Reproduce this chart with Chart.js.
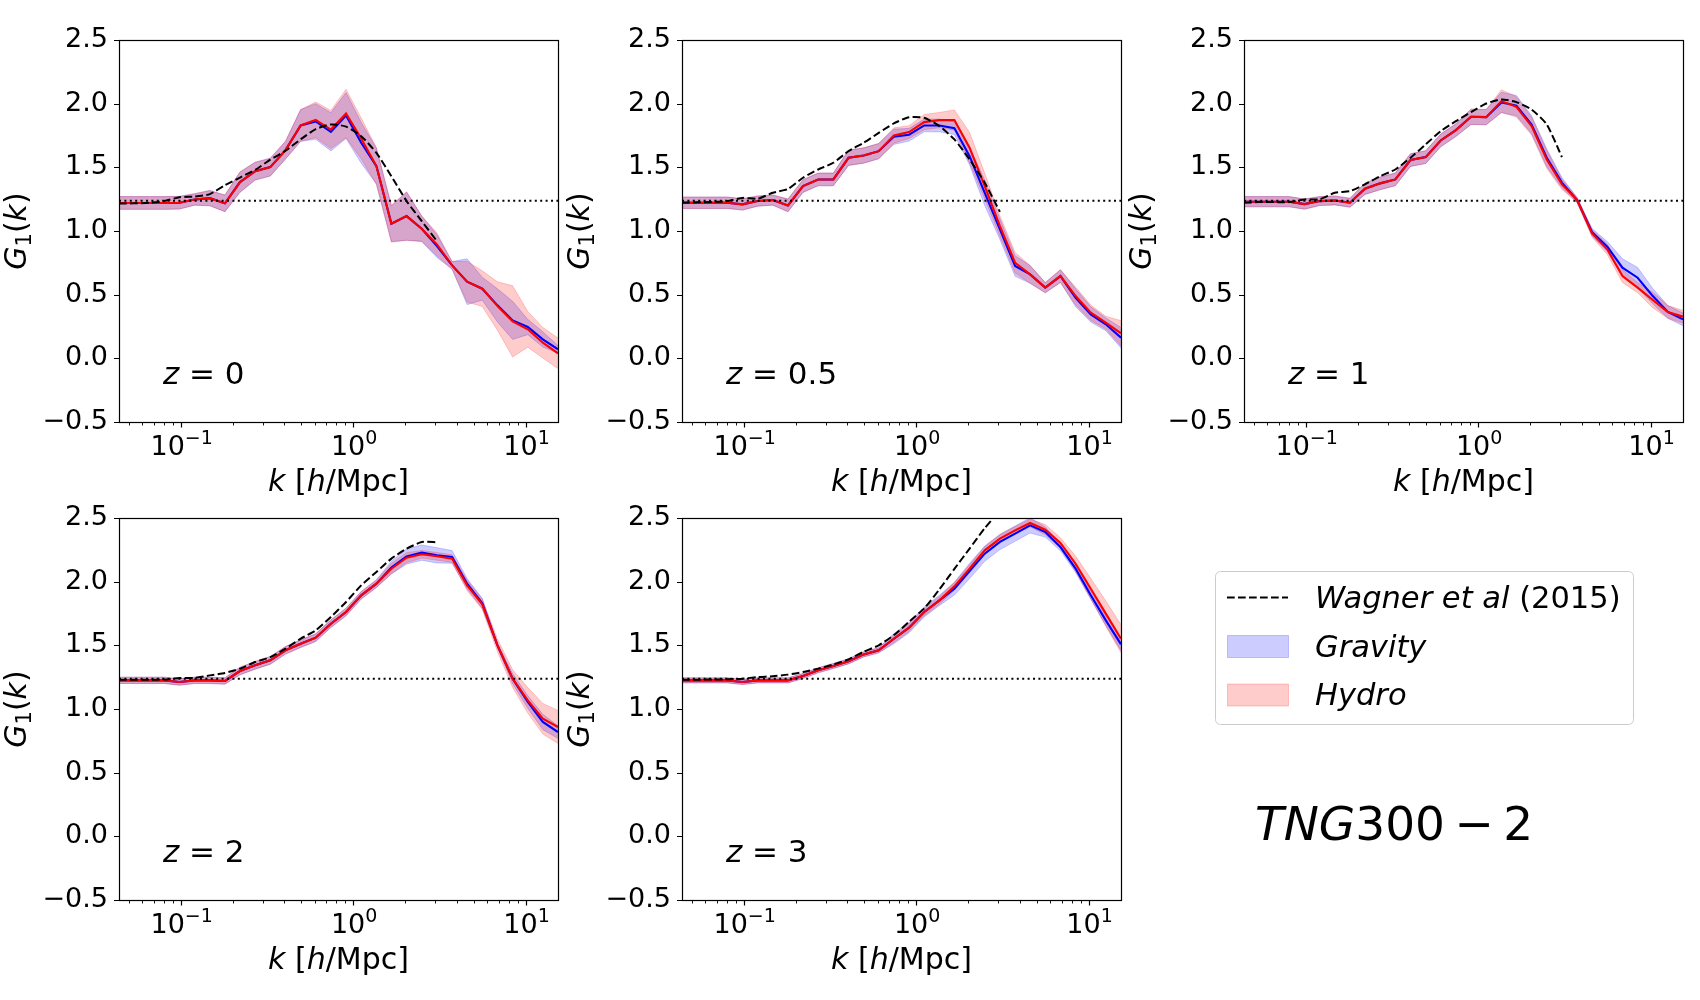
<!DOCTYPE html>
<html>
<head>
<meta charset="utf-8">
<script src="https://cdn.jsdelivr.net/npm/chart.js@4.4.1/dist/chart.umd.min.js"></script>
<style>
  html, body { margin: 0; padding: 0; background: #ffffff; width: 1700px; height: 1000px; overflow: hidden; }
  canvas { position: absolute; }
  #overlay { position: absolute; left: 0; top: 0; }
</style>
</head>
<body>
<canvas id="c0"></canvas>
<canvas id="c1"></canvas>
<canvas id="c2"></canvas>
<canvas id="c3"></canvas>
<canvas id="c4"></canvas>
<svg id="overlay" width="1700" height="1000" xmlns="http://www.w3.org/2000/svg"></svg>
<script>
// ---------------- DATA ----------------
const k = [0.0439, 0.0537, 0.0658, 0.0804, 0.0984, 0.1205, 0.1476, 0.1807, 0.2208, 0.2704,
           0.3311, 0.4055, 0.4966, 0.6067, 0.743, 0.9099, 1.114, 1.365, 1.667, 2.042,
           2.5, 3.062, 3.75, 4.581, 5.61, 6.871, 8.414, 10.30, 12.59, 15.42];
// Wagner et al (2015) curve is sampled at the first 22 k values
const kWagner = [0.0439, 0.0537, 0.0658, 0.0804, 0.0984, 0.1205, 0.1476, 0.1807, 0.2208, 0.2704,
                 0.3311, 0.4055, 0.4966, 0.6067, 0.743, 0.9099, 1.114, 1.365, 1.667, 2.042,
                 2.5, 3.062];

const redshifts = ['0', '0.5', '1', '2', '3'];
const largeScaleG1 = 1.238;   // 26/21 dotted reference line

// z = 0
const grav_z0     = [1.22,1.22,1.22,1.22,1.222,1.248,1.258,1.217,1.384,1.47,1.502,1.635,1.829,1.86,1.779,1.907,1.693,1.51,1.057,1.117,1.018,0.882,0.73,0.602,0.547,0.416,0.298,0.246,0.149,0.071];
const gravErr_z0  = [0.05,0.05,0.05,0.05,0.05,0.045,0.06,0.065,0.08,0.07,0.07,0.07,0.125,0.14,0.15,0.18,0.16,0.14,0.14,0.19,0.1,0.09,0.03,0.18,0.09,0.13,0.15,0.06,0.06,0.03];
const hydro_z0    = [1.22,1.22,1.22,1.22,1.222,1.248,1.258,1.217,1.384,1.47,1.502,1.635,1.829,1.873,1.797,1.923,1.727,1.51,1.057,1.117,1.018,0.895,0.73,0.602,0.547,0.411,0.29,0.228,0.123,0.039];
const hydroErr_z0 = [0.05,0.05,0.05,0.05,0.05,0.045,0.06,0.065,0.08,0.07,0.07,0.07,0.125,0.14,0.15,0.19,0.16,0.145,0.145,0.19,0.1,0.09,0.03,0.16,0.14,0.19,0.28,0.14,0.12,0.12];
const wagner_z0   = [1.215,1.217,1.222,1.235,1.265,1.27,1.29,1.36,1.42,1.48,1.56,1.63,1.72,1.80,1.837,1.82,1.745,1.614,1.43,1.235,1.078,0.92];

// z = 0.5
const grav_z05     = [1.222,1.222,1.222,1.222,1.209,1.235,1.243,1.201,1.353,1.405,1.405,1.575,1.593,1.627,1.74,1.756,1.829,1.829,1.808,1.588,1.30,1.013,0.725,0.659,0.555,0.646,0.476,0.345,0.267,0.162];
const gravErr_z05  = [0.045,0.045,0.045,0.045,0.045,0.04,0.04,0.05,0.05,0.05,0.05,0.06,0.06,0.06,0.06,0.05,0.05,0.05,0.05,0.07,0.1,0.08,0.08,0.07,0.04,0.05,0.07,0.06,0.05,0.08];
const hydro_z05    = [1.222,1.222,1.222,1.222,1.209,1.235,1.243,1.201,1.353,1.405,1.405,1.575,1.593,1.627,1.75,1.777,1.855,1.871,1.871,1.654,1.353,1.039,0.751,0.659,0.555,0.646,0.489,0.358,0.28,0.196];
const hydroErr_z05 = [0.045,0.045,0.045,0.045,0.045,0.04,0.04,0.05,0.05,0.05,0.05,0.06,0.06,0.06,0.06,0.05,0.06,0.06,0.08,0.12,0.1,0.08,0.08,0.07,0.04,0.05,0.07,0.06,0.05,0.1];
const wagner_z05   = [1.222,1.225,1.228,1.235,1.26,1.253,1.30,1.33,1.418,1.483,1.536,1.627,1.693,1.77,1.845,1.894,1.889,1.824,1.719,1.562,1.379,1.15];

// z = 1
const grav_z1     = [1.23,1.23,1.23,1.23,1.211,1.235,1.24,1.222,1.332,1.374,1.405,1.557,1.58,1.711,1.792,1.897,1.894,2.01,1.985,1.835,1.575,1.38,1.243,0.99,0.877,0.712,0.633,0.489,0.364,0.306];
const gravErr_z1  = [0.04,0.04,0.04,0.04,0.04,0.035,0.035,0.035,0.045,0.05,0.05,0.05,0.05,0.05,0.05,0.06,0.06,0.08,0.08,0.07,0.07,0.04,0.02,0.03,0.04,0.07,0.08,0.06,0.05,0.05];
const hydro_z1    = [1.23,1.23,1.23,1.23,1.211,1.235,1.24,1.222,1.332,1.374,1.405,1.557,1.58,1.711,1.792,1.897,1.894,2.02,1.975,1.824,1.562,1.366,1.243,0.981,0.856,0.646,0.555,0.458,0.364,0.327];
const hydroErr_z1 = [0.04,0.04,0.04,0.04,0.04,0.035,0.035,0.035,0.045,0.05,0.05,0.05,0.05,0.05,0.05,0.06,0.06,0.09,0.08,0.07,0.07,0.04,0.02,0.03,0.04,0.05,0.04,0.06,0.05,0.05];
const wagner_z1   = [1.222,1.227,1.227,1.227,1.248,1.25,1.30,1.313,1.366,1.431,1.483,1.575,1.68,1.784,1.863,1.934,2.001,2.033,2.012,1.954,1.837,1.58];

// z = 2
const grav_z2     = [1.225,1.225,1.225,1.225,1.212,1.225,1.225,1.22,1.298,1.343,1.382,1.461,1.513,1.56,1.67,1.762,1.893,1.984,2.11,2.198,2.228,2.207,2.194,1.984,1.83,1.50,1.238,1.055,0.898,0.819];
const gravErr_z2  = [0.025,0.025,0.025,0.025,0.025,0.025,0.025,0.025,0.03,0.03,0.03,0.03,0.03,0.03,0.03,0.03,0.03,0.03,0.05,0.06,0.06,0.06,0.05,0.04,0.04,0.02,0.04,0.05,0.06,0.05];
const hydro_z2    = [1.225,1.225,1.225,1.225,1.212,1.225,1.225,1.22,1.298,1.343,1.382,1.461,1.513,1.56,1.67,1.762,1.893,1.984,2.102,2.188,2.215,2.199,2.181,1.971,1.822,1.50,1.238,1.068,0.924,0.859];
const hydroErr_z2 = [0.025,0.025,0.025,0.025,0.025,0.025,0.025,0.025,0.03,0.03,0.03,0.03,0.03,0.03,0.03,0.03,0.03,0.03,0.04,0.04,0.03,0.03,0.03,0.04,0.04,0.05,0.07,0.1,0.12,0.13];
const wagner_z2   = [1.23,1.23,1.23,1.232,1.243,1.245,1.264,1.283,1.317,1.369,1.408,1.474,1.552,1.618,1.723,1.84,1.971,2.076,2.181,2.259,2.311,2.31];

// z = 3
const grav_z3     = [1.225,1.225,1.225,1.225,1.212,1.225,1.225,1.225,1.259,1.304,1.338,1.374,1.429,1.461,1.552,1.639,1.762,1.853,1.945,2.084,2.22,2.312,2.377,2.442,2.39,2.272,2.102,1.893,1.696,1.508];
const gravErr_z3  = [0.02,0.02,0.02,0.02,0.02,0.02,0.02,0.02,0.02,0.02,0.02,0.02,0.02,0.02,0.04,0.04,0.04,0.04,0.05,0.06,0.06,0.06,0.06,0.06,0.04,0.03,0.03,0.03,0.04,0.05];
const hydro_z3    = [1.225,1.225,1.225,1.225,1.212,1.225,1.225,1.225,1.259,1.304,1.338,1.374,1.429,1.461,1.552,1.639,1.762,1.853,1.963,2.102,2.246,2.338,2.403,2.461,2.408,2.304,2.141,1.945,1.749,1.552];
const hydroErr_z3 = [0.02,0.02,0.02,0.02,0.02,0.02,0.02,0.02,0.02,0.02,0.02,0.02,0.02,0.02,0.03,0.03,0.03,0.03,0.03,0.03,0.03,0.03,0.03,0.03,0.04,0.04,0.06,0.08,0.1,0.11];
const wagner_z3   = [1.23,1.23,1.232,1.233,1.238,1.251,1.257,1.27,1.29,1.317,1.35,1.39,1.45,1.50,1.58,1.685,1.79,1.94,2.10,2.26,2.42,2.56];

// tick labels (base and exponent of the x tick labels)
const xMajorTicks = [0.1, 1, 10];
const xTickBase = ['10', '10', '10'];
const xTickExp = ['\u22121', '0', '1'];
const yTicks = [-0.5, 0, 0.5, 1.0, 1.5, 2.0, 2.5];
const yMin = -0.5, yMax = 2.5;

const seriesLabels = { wagner: 'Wagner et al', wagnerYear: ' (2015)', grav: 'Gravity', hydro: 'Hydro' };
const simName = { italic: 'TNG', rest: '300\u2009\u2212\u20092' };

// ---------------- STYLE / LAYOUT ----------------
const FONT = '"DejaVu Sans", sans-serif';
const W = 439, H = 382;
const padL = 119, padT = 30, padR = 15, padB = 90;
const panels = [
  { L: 119, T: 40,  z: redshifts[0], g: grav_z0,  ge: gravErr_z0,  h: hydro_z0,  he: hydroErr_z0,  w: wagner_z0 },
  { L: 682, T: 40,  z: redshifts[1], g: grav_z05, ge: gravErr_z05, h: hydro_z05, he: hydroErr_z05, w: wagner_z05 },
  { L: 1244, T: 40, z: redshifts[2], g: grav_z1,  ge: gravErr_z1,  h: hydro_z1,  he: hydroErr_z1,  w: wagner_z1 },
  { L: 119, T: 518, z: redshifts[3], g: grav_z2,  ge: gravErr_z2,  h: hydro_z2,  he: hydroErr_z2,  w: wagner_z2 },
  { L: 682, T: 518, z: redshifts[4], g: grav_z3,  ge: gravErr_z3,  h: hydro_z3,  he: hydroErr_z3,  w: wagner_z3 }
];

function drawRich(ctx, segs, x, y, align) {
  let total = 0;
  for (const s of segs) { ctx.font = s.font; s.w = ctx.measureText(s.t).width; total += s.w; }
  let cx = align === 'center' ? x - total / 2 : x;
  ctx.textAlign = 'left';
  ctx.textBaseline = 'alphabetic';
  for (const s of segs) { ctx.font = s.font; ctx.fillText(s.t, cx, y + (s.dy || 0)); cx += s.w; }
}

const decoPlugin = {
  id: 'deco',
  afterDraw(chart, args, opts) {
    const ctx = chart.ctx;
    const a = chart.chartArea;
    const xs = chart.scales.x, ys = chart.scales.y;
    ctx.save();
    ctx.strokeStyle = '#000';
    ctx.fillStyle = '#000';
    // frame
    ctx.lineWidth = 1.2;
    ctx.strokeRect(Math.round(a.left) + 0.5, Math.round(a.top) + 0.5,
                   Math.round(a.right - a.left), Math.round(a.bottom - a.top));
    // y major ticks
    ctx.beginPath();
    for (const v of yTicks) {
      const py = Math.round(ys.getPixelForValue(v)) + 0.5;
      ctx.moveTo(a.left - 5, py); ctx.lineTo(a.left + 0.5, py);
    }
    // x major ticks
    for (const v of xMajorTicks) {
      const px = Math.round(xs.getPixelForValue(v)) + 0.5;
      ctx.moveTo(px, a.bottom); ctx.lineTo(px, a.bottom + 5.5);
    }
    ctx.stroke();
    // x minor ticks
    ctx.lineWidth = 0.9;
    ctx.beginPath();
    for (let d = -2; d <= 1; d++) {
      for (let m = 2; m <= 9; m++) {
        const v = m * Math.pow(10, d);
        if (v <= xs.min || v >= xs.max) continue;
        const px = Math.round(xs.getPixelForValue(v)) + 0.5;
        ctx.moveTo(px, a.bottom); ctx.lineTo(px, a.bottom + 3.5);
      }
    }
    ctx.stroke();
    // x tick labels: base with raised exponent
    xMajorTicks.forEach((v, i) => {
      const px = xs.getPixelForValue(v);
      drawRich(ctx, [
        { t: xTickBase[i], font: '27px ' + FONT },
        { t: xTickExp[i], font: '19px ' + FONT, dy: -11.5 }
      ], px + 1, a.bottom + 33, 'center');
    });
    // x axis title
    const cxm = (a.left + a.right) / 2;
    drawRich(ctx, [
      { t: 'k', font: 'italic 30px ' + FONT },
      { t: ' [', font: '30px ' + FONT },
      { t: 'h', font: 'italic 30px ' + FONT },
      { t: '/Mpc]', font: '30px ' + FONT }
    ], cxm, a.bottom + 69, 'center');
    // y axis title (rotated)
    ctx.save();
    ctx.translate(a.left - 93, (a.top + a.bottom) / 2);
    ctx.rotate(-Math.PI / 2);
    drawRich(ctx, [
      { t: 'G', font: 'italic 30px ' + FONT },
      { t: '1', font: '21px ' + FONT, dy: 5 },
      { t: '(', font: '30px ' + FONT },
      { t: 'k', font: 'italic 30px ' + FONT },
      { t: ')', font: '30px ' + FONT }
    ], 0, 0, 'center');
    ctx.restore();
    // redshift annotation
    drawRich(ctx, [
      { t: 'z', font: 'italic 31px ' + FONT },
      { t: ' = ' + opts.z, font: '31px ' + FONT }
    ], a.left + 0.1 * (a.right - a.left), a.bottom - 0.1 * (a.bottom - a.top), 'left');
    ctx.restore();
  }
};

function pts(xArr, yArr) { return yArr.map((v, i) => ({ x: xArr[i], y: v })); }

panels.forEach((p, idx) => {
  const canvas = document.getElementById('c' + idx);
  canvas.width = padL + W + padR;
  canvas.height = padT + H + padB;
  canvas.style.left = (p.L - padL) + 'px';
  canvas.style.top = (p.T - padT) + 'px';

  const gLo = p.g.map((v, i) => v - p.ge[i]);
  const gHi = p.g.map((v, i) => v + p.ge[i]);
  const hLo = p.h.map((v, i) => v - p.he[i]);
  const hHi = p.h.map((v, i) => v + p.he[i]);
  const base = { pointRadius: 0, pointHoverRadius: 0, tension: 0, fill: false };

  new Chart(canvas, {
    type: 'line',
    data: {
      datasets: [
        Object.assign({}, base, { label: 'gLo', data: pts(k, gLo), borderColor: 'rgba(0,0,255,0.2)', borderWidth: 1, order: 9 }),
        Object.assign({}, base, { label: 'gHi', data: pts(k, gHi), borderColor: 'rgba(0,0,255,0.2)', borderWidth: 1, order: 8,
          fill: '-1', backgroundColor: 'rgba(0,0,255,0.2)' }),
        Object.assign({}, base, { label: 'hLo', data: pts(k, hLo), borderColor: 'rgba(255,0,0,0.2)', borderWidth: 1, order: 7 }),
        Object.assign({}, base, { label: 'hHi', data: pts(k, hHi), borderColor: 'rgba(255,0,0,0.2)', borderWidth: 1, order: 6,
          fill: '-1', backgroundColor: 'rgba(255,0,0,0.2)' }),
        Object.assign({}, base, { label: seriesLabels.grav, data: pts(k, p.g), borderColor: '#0000ff', borderWidth: 2.1, order: 4 }),
        Object.assign({}, base, { label: seriesLabels.hydro, data: pts(k, p.h), borderColor: '#ff0000', borderWidth: 2.1, order: 3 }),
        Object.assign({}, base, { label: 'large-scale', data: [{ x: k[0], y: largeScaleG1 }, { x: k[k.length - 1], y: largeScaleG1 }],
          borderColor: '#000', borderWidth: 2, borderDash: [2, 3.4], order: 2 }),
        Object.assign({}, base, { label: seriesLabels.wagner, data: pts(kWagner, p.w), borderColor: '#000', borderWidth: 2,
          borderDash: [7.7, 3.3], tension: 0.2, order: 1 })
      ]
    },
    options: {
      responsive: false,
      animation: false,
      devicePixelRatio: 1,
      layout: { padding: { left: 0, top: padT, right: padR, bottom: 0 } },
      plugins: { legend: { display: false }, tooltip: { enabled: false }, deco: { z: p.z } },
      scales: {
        x: {
          type: 'logarithmic', position: 'bottom', min: k[0], max: k[k.length - 1],
          grid: { display: false, drawTicks: false }, border: { display: false },
          afterBuildTicks: s => { s.ticks = xMajorTicks.map(v => ({ value: v })); },
          afterFit: s => { s.height = padB; },
          ticks: { display: false, autoSkip: false, maxRotation: 0, minRotation: 0 }
        },
        y: {
          type: 'linear', min: yMin, max: yMax,
          grid: { display: false, drawTicks: false }, border: { display: false },
          afterBuildTicks: s => { s.ticks = yTicks.map(v => ({ value: v })); },
          afterFit: s => { s.width = padL; },
          ticks: { padding: 11, color: '#000', font: { family: FONT, size: 27 },
                   callback: v => (v < 0 ? '\u2212' : '') + Math.abs(v).toFixed(1) }
        }
      }
    },
    plugins: [decoPlugin]
  });
});

// ---------------- LEGEND + SIM LABEL (SVG text) ----------------
const svg = document.getElementById('overlay');
const NS = 'http://www.w3.org/2000/svg';
function el(tag, attrs, parent) {
  const e = document.createElementNS(NS, tag);
  for (const key in attrs) e.setAttribute(key, attrs[key]);
  (parent || svg).appendChild(e);
  return e;
}
el('rect', { x: 1215.5, y: 571.5, width: 418, height: 153, rx: 5, ry: 5, fill: '#ffffff', 'fill-opacity': 0.8, stroke: '#cccccc', 'stroke-width': 1 });
el('line', { x1: 1227, y1: 597.5, x2: 1288, y2: 597.5, stroke: '#000', 'stroke-width': 2, 'stroke-dasharray': '7.7 3.3' });
el('rect', { x: 1227.5, y: 635.5, width: 61, height: 22, fill: 'rgba(0,0,255,0.2)', stroke: 'rgba(0,0,255,0.2)', 'stroke-width': 1 });
el('rect', { x: 1227.5, y: 684, width: 61, height: 22, fill: 'rgba(255,0,0,0.2)', stroke: 'rgba(255,0,0,0.2)', 'stroke-width': 1 });

function svgText(x, y, size, parts) {
  const t = el('text', { x: x, y: y, 'font-family': 'DejaVu Sans', 'font-size': size, fill: '#000' });
  parts.forEach(pt => {
    const s = el('tspan', pt.italic ? { 'font-style': 'italic' } : {}, t);
    s.textContent = pt.t;
  });
  t.setAttribute('xml:space', 'preserve');
  t.style.whiteSpace = 'pre';
  return t;
}
svgText(1315, 608, 30.5, [{ t: seriesLabels.wagner, italic: true }, { t: seriesLabels.wagnerYear }]);
svgText(1315, 656.5, 30.5, [{ t: seriesLabels.grav, italic: true }]);
svgText(1315, 705, 30.5, [{ t: seriesLabels.hydro, italic: true }]);
svgText(1255, 840, 47, [{ t: simName.italic, italic: true }, { t: simName.rest }]);
</script>
</body>
</html>
